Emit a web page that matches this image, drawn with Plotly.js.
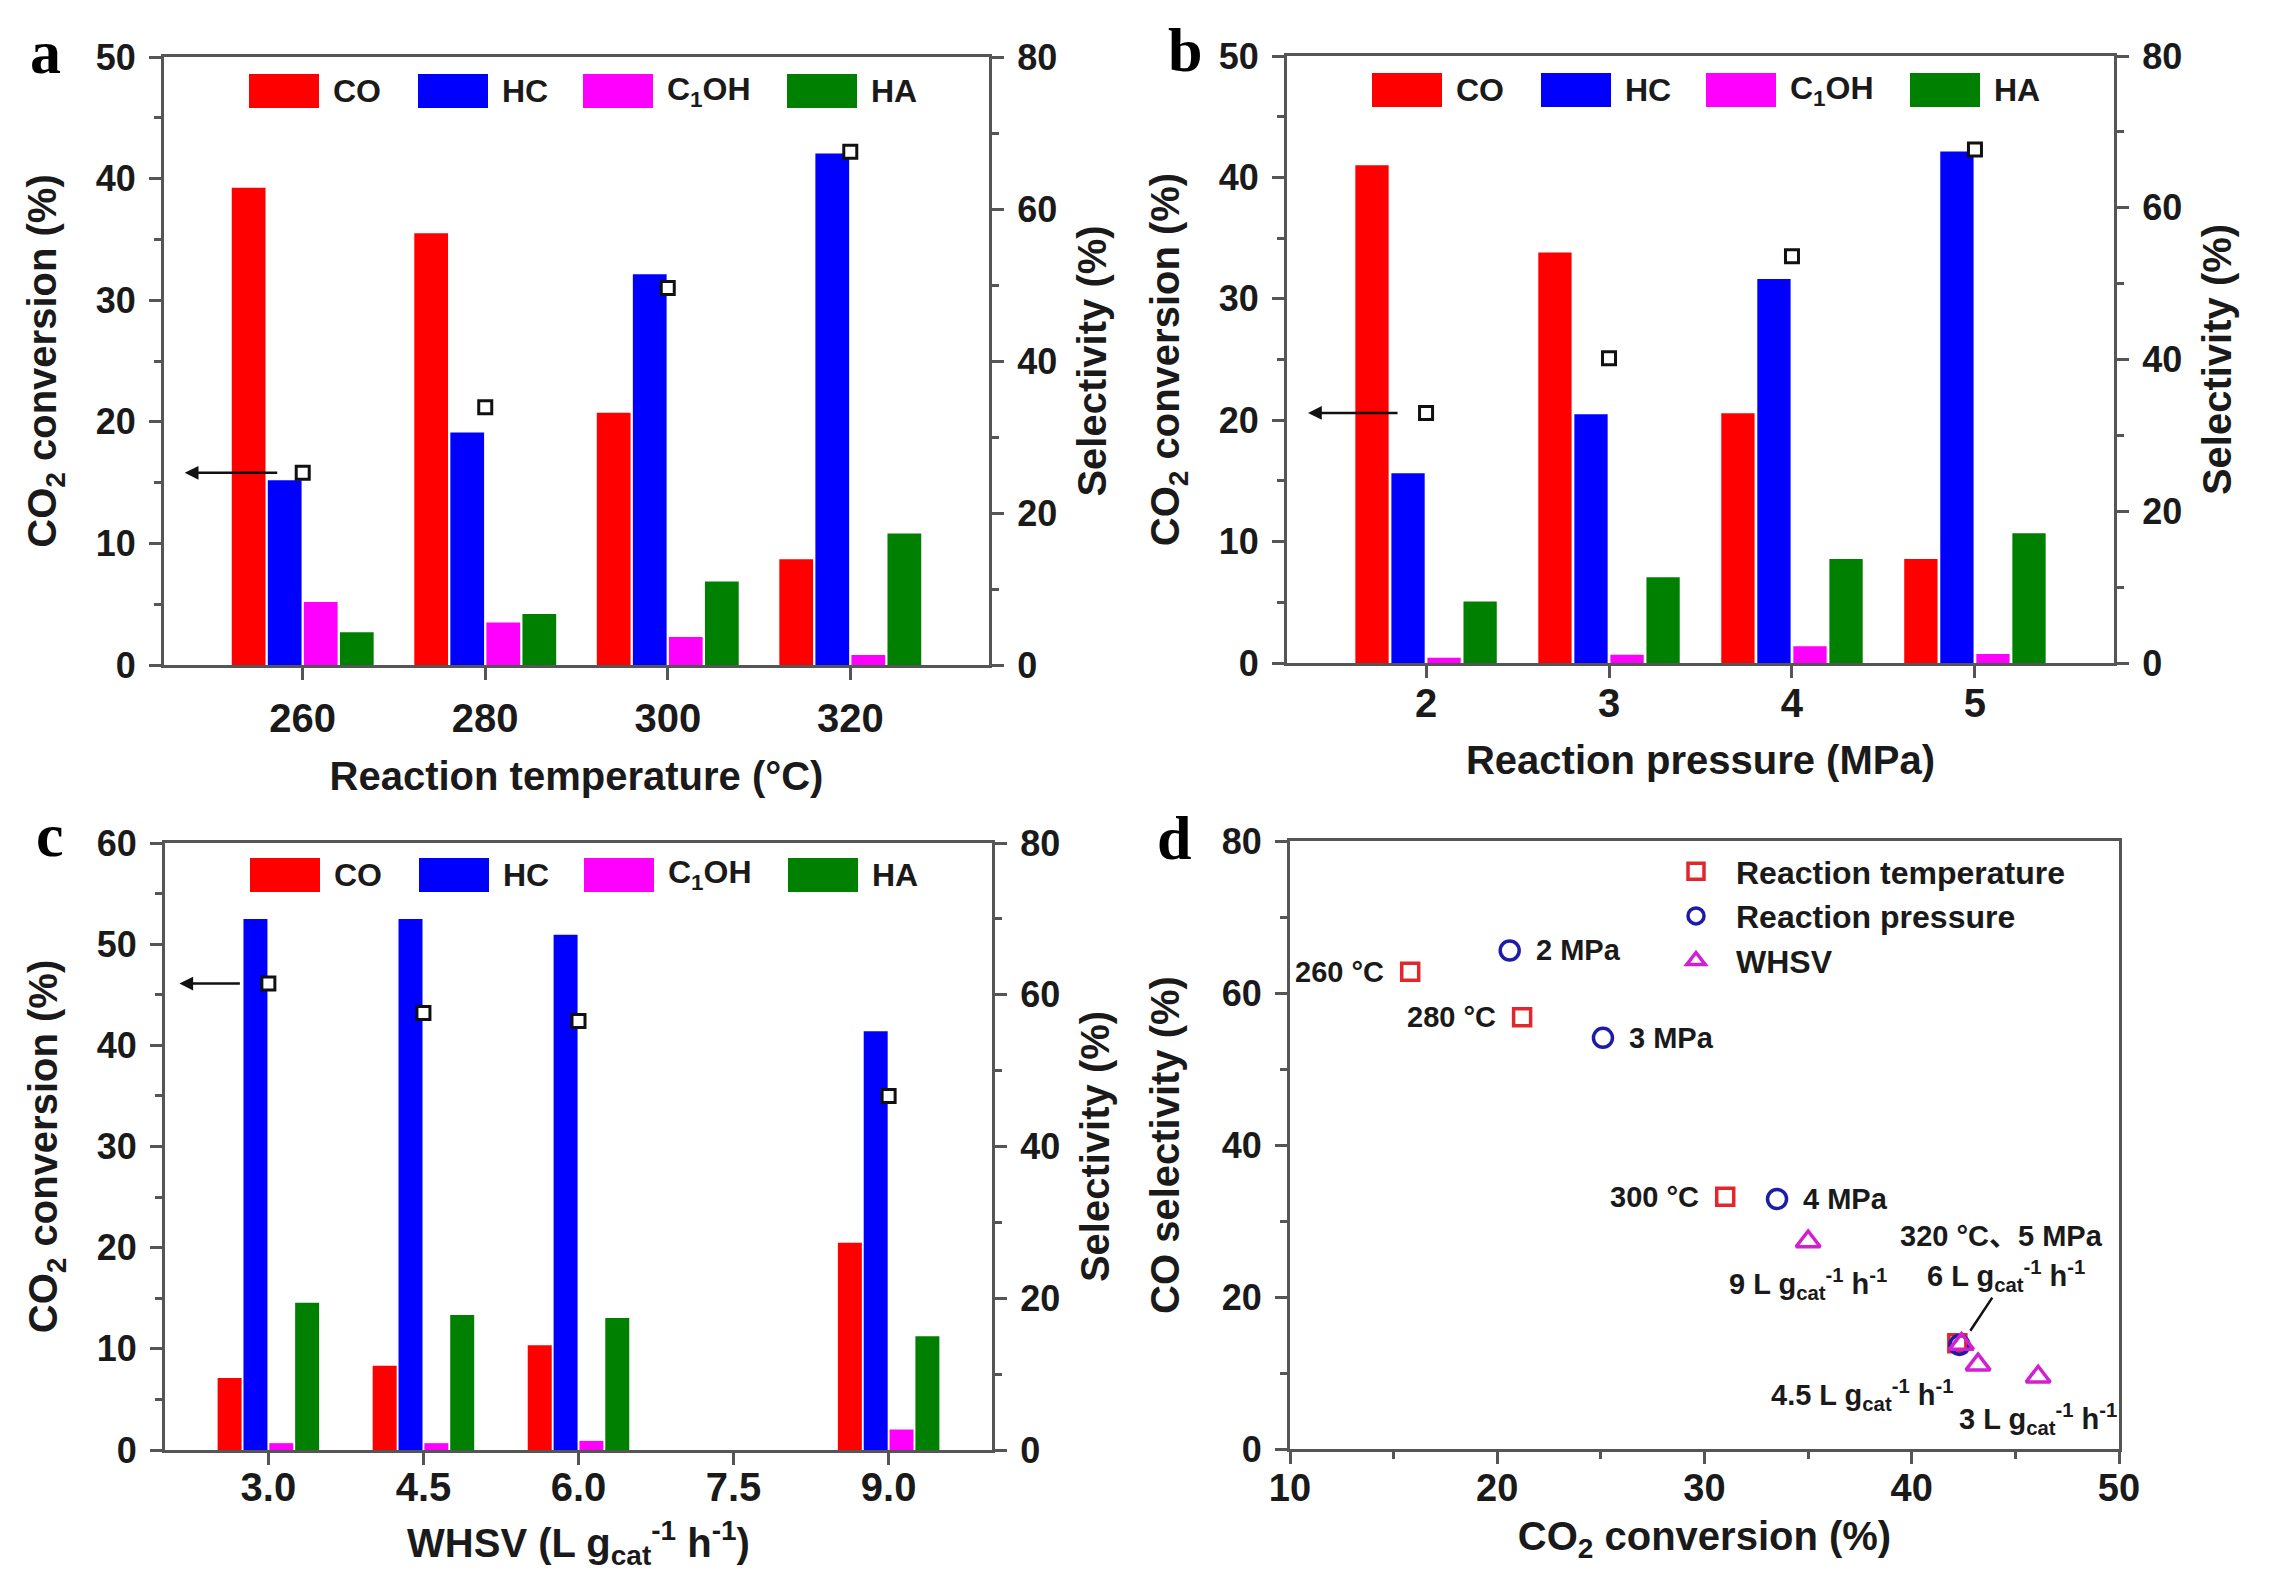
<!DOCTYPE html>
<html>
<head>
<meta charset="utf-8">
<script src="https://cdn.plot.ly/plotly-3.0.1.min.js"></script>
<style>
  html, body { margin: 0; padding: 0; background: #ffffff; }
  #chart { width: 2274px; height: 1593px; }
</style>
</head>
<body>
<div id="chart"></div>
<script>
// CO2 hydrogenation: selectivity bars + conversion markers (a–c), CO selectivity vs conversion (d)
(function () {

    const dom = document.getElementById("chart");
    const W = 2274, H = 1593;

    // ---------- data ----------
    const products = ["CO", "HC", "C<sub>1</sub>OH", "HA"];

    // a: reaction temperature (°C)
    const temps = [260, 280, 300, 320];
    const tempCO = [62.8, 56.8, 33.2, 13.9];
    const tempHC = [24.3, 30.6, 51.4, 67.3];
    const tempC1OH = [8.3, 5.6, 3.7, 1.3];
    const tempHA = [4.3, 6.7, 11.0, 17.3];
    const tempConv = [15.8, 21.2, 31.0, 42.2];

    // b: reaction pressure (MPa)
    const pressures = [2, 3, 4, 5];
    const presCO = [65.6, 54.1, 32.9, 13.7];
    const presHC = [25.0, 32.8, 50.6, 67.4];
    const presC1OH = [0.7, 1.1, 2.2, 1.2];
    const presHA = [8.1, 11.3, 13.7, 17.1];
    const presConv = [20.6, 25.1, 33.5, 42.3];

    // c: WHSV (L g_cat^-1 h^-1)
    const whsv = [3.0, 4.5, 6.0, 9.0];
    const whsvCO = [9.5, 11.1, 13.8, 27.3];
    const whsvHC = [70.0, 70.0, 67.9, 55.2];
    const whsvC1OH = [0.9, 0.9, 1.2, 2.7];
    const whsvHA = [19.4, 17.8, 17.4, 15.0];
    const whsvConv = [46.1, 43.2, 42.4, 35.0];

    // d: labels
    const tempLabels = ["260 °C", "280 °C", "300 °C"];
    const presLabels = ["2 MPa", "3 MPa", "4 MPa"];
    const sharedLabel = "320 °C、5 MPa";

    // ---------- style ----------
    const FONT = "Liberation Sans, Arial, Noto Sans CJK SC, sans-serif";
    const SERIF = "Liberation Serif, Times New Roman, serif";
    const INK = "#1a1a1a";
    const AX = "#555555";
    const barColors = ["#ff0000", "#0000ff", "#ff00ff", "#008000"];
    const C = { temp: "#e3262c", pres: "#1c1ca8", whsv: "#d21fd2" };

    const px = (v) => v / W;
    const py = (v) => 1 - v / H;

    // plot boxes in figure pixels
    const box = {
        a: { l: 164, r: 989, t: 57, b: 665 },
        b: { l: 1287, r: 2114, t: 56, b: 663 },
        c: { l: 165, r: 992, t: 843, b: 1450 },
        d: { l: 1290, r: 2119, t: 841, b: 1449 }
    };
    const dx = (k) => [px(box[k].l), px(box[k].r)];
    const dy = (k) => [py(box[k].b), py(box[k].t)];

    const tickFont = (s) => ({ family: FONT, size: s, color: INK, weight: "bold" });
    const titleFont = { family: FONT, size: 40, color: INK, weight: "bold" };

    const axBase = {
        showline: true, linecolor: AX, linewidth: 3,
        ticks: "outside", ticklen: 12, tickwidth: 3, tickcolor: AX,
        showgrid: false, zeroline: false, fixedrange: true
    };
    const minor = (d) => ({ ticks: "outside", ticklen: 7, tickwidth: 2.5, tickcolor: AX, dtick: d, showgrid: false });

    // ---------- traces ----------
    function barSet(xs, series, xa, ya, slot, bw) {
        return series.map((vals, i) => ({
            type: "bar",
            x: xs, y: vals,
            xaxis: xa, yaxis: ya,
            name: products[i],
            width: bw,
            offset: -2 * slot + i * slot + (slot - bw) / 2,
            marker: { color: barColors[i], line: { width: 0 } },
            showlegend: false,
            hoverinfo: "x+y"
        }));
    }

    function convMarks(xs, ys, xa, ya) {
        return {
            type: "scatter", mode: "markers",
            x: xs, y: ys, xaxis: xa, yaxis: ya,
            marker: { symbol: "square", size: 13, color: "#ffffff", line: { color: "#111111", width: 3 } },
            cliponaxis: false, showlegend: false, name: "CO2 conversion"
        };
    }

    const traces = [
        ...barSet(temps, [tempCO, tempHC, tempC1OH, tempHA], "x", "y", 3.95, 3.7),
        convMarks(temps, tempConv, "x", "y2"),
        ...barSet(pressures, [presCO, presHC, presC1OH, presHA], "x2", "y3", 0.197, 0.182),
        convMarks(pressures, presConv, "x2", "y4"),
        ...barSet(whsv, [whsvCO, whsvHC, whsvC1OH, whsvHA], "x3", "y5", 0.25, 0.232),
        convMarks(whsv, whsvConv, "x3", "y6"),
        {
            type: "scatter", mode: "markers", name: "Reaction temperature",
            x: tempConv, y: tempCO, xaxis: "x4", yaxis: "y7",
            marker: { symbol: "square-open", size: 17, color: C.temp, line: { color: C.temp, width: 3.5 } },
            cliponaxis: false
        },
        {
            type: "scatter", mode: "markers", name: "Reaction pressure",
            x: presConv, y: presCO, xaxis: "x4", yaxis: "y7",
            marker: { symbol: "circle-open", size: 19, color: C.pres, line: { color: C.pres, width: 3.5 } },
            cliponaxis: false
        },
        {
            type: "scatter", mode: "markers", name: "WHSV",
            x: whsvConv, y: whsvCO, xaxis: "x4", yaxis: "y7",
            marker: { symbol: "triangle-up-open", size: 21, color: C.whsv, line: { color: C.whsv, width: 3.5 } },
            cliponaxis: false
        }
    ];

    // ---------- manual bar legends (large swatches) ----------
    const legOffsets = [85, 254, 419, 623];
    const shapes = [];
    const annotations = [];
    ["a", "b", "c"].forEach((k) => {
        const bx = box[k];
        const top = bx.t + (k === "c" ? 15 : 17);
        legOffsets.forEach((o, i) => {
            shapes.push({
                type: "rect", xref: "paper", yref: "paper",
                x0: px(bx.l + o), x1: px(bx.l + o + 70),
                y0: py(top + 34), y1: py(top),
                fillcolor: barColors[i], line: { width: 0 }
            });
            annotations.push({
                xref: "paper", yref: "paper",
                x: px(bx.l + o + 82), y: py(top + 17),
                xanchor: "left", yanchor: "middle",
                text: products[i], showarrow: false,
                font: { family: FONT, size: 32, color: INK, weight: "bold" }
            });
        });
    });

    // arrows pointing to the conversion axis
    [["x", "y2", temps, tempConv, -118, 94],
     ["x2", "y4", pressures, presConv, -118, 91],
     ["x3", "y6", whsv, whsvConv, -89, 62]].forEach(([xa, ya, xs, ys, shift, len]) => {
        annotations.push({
            xref: xa, yref: ya, x: xs[0], y: ys[0],
            xshift: shift, ax: len, ay: 0, text: "",
            showarrow: true, arrowhead: 2, arrowsize: 1.1, arrowwidth: 2.5, arrowcolor: "#111111"
        });
    });

    // panel letters
    [["a", 45, 52], ["b", 1185, 50], ["c", 50, 835], ["d", 1174, 838]].forEach(([t, x, y]) => {
        annotations.push({
            xref: "paper", yref: "paper", x: px(x), y: py(y),
            xanchor: "center", yanchor: "middle", text: t, showarrow: false,
            font: { family: SERIF, size: 62, color: "#000000", weight: "bold" }
        });
    });

    // panel d point labels
    const lblFont = { family: FONT, size: 29, color: INK, weight: "bold" };
    const gcat = (v) => `${v} L g<sub>cat</sub><sup>-1</sup> h<sup>-1</sup>`;
    tempLabels.forEach((t, i) => annotations.push({
        xref: "x4", yref: "y7", x: tempConv[i], y: tempCO[i], text: t,
        xanchor: "right", yanchor: "middle", xshift: -24, showarrow: false, font: lblFont
    }));
    presLabels.forEach((t, i) => annotations.push({
        xref: "x4", yref: "y7", x: presConv[i], y: presCO[i], text: t,
        xanchor: "left", yanchor: "middle", xshift: 24, showarrow: false, font: lblFont
    }));
    annotations.push({
        xref: "x4", yref: "y7", x: tempConv[3], y: tempCO[3], text: sharedLabel,
        xanchor: "center", yanchor: "middle", xshift: 44, yshift: 107, showarrow: false, font: lblFont
    });
    annotations.push({
        xref: "x4", yref: "y7", x: whsvConv[0], y: whsvCO[0], text: gcat(3),
        xanchor: "center", yanchor: "middle", yshift: -42, showarrow: false, font: lblFont
    });
    annotations.push({
        xref: "x4", yref: "y7", x: whsvConv[1], y: whsvCO[1], text: gcat(4.5),
        xanchor: "right", yanchor: "middle", xshift: -22, yshift: -30, showarrow: false, font: lblFont
    });
    annotations.push({
        xref: "x4", yref: "y7", x: whsvConv[2], y: whsvCO[2], text: gcat(6),
        showarrow: true, arrowhead: 0, arrowwidth: 2.5, arrowcolor: "#111111",
        ax: 45, ay: -68, standoff: 16, font: lblFont
    });
    annotations.push({
        xref: "x4", yref: "y7", x: whsvConv[3], y: whsvCO[3], text: gcat(9),
        xanchor: "center", yanchor: "middle", yshift: -42, showarrow: false, font: lblFont
    });

    // ---------- layout ----------
    const convTitle = "CO<sub>2</sub> conversion (%)";
    const selTitle = "Selectivity (%)";

    function catX(k, range, tickvals, title, labelGap, standoff, anchor) {
        return Object.assign({}, axBase, {
            domain: dx(k), anchor: anchor, range: range,
            tickmode: "array", tickvals: tickvals,
            tickfont: tickFont(40), ticklabelstandoff: labelGap,
            mirror: true,
            title: { text: title, font: titleFont, standoff: standoff }
        });
    }
    function selY(k, anchor) {
        return Object.assign({}, axBase, {
            domain: dy(k), anchor: anchor, side: "right", range: [0, 80],
            dtick: 20, minor: minor(10), tickfont: tickFont(36), ticklabelstandoff: 6,
            title: { text: selTitle, font: titleFont, standoff: 22 }
        });
    }
    function convY(base, anchor, top, dt) {
        return Object.assign({}, axBase, {
            overlaying: base, anchor: anchor, side: "left", range: [0, top],
            dtick: dt, minor: minor(dt / 2), tickfont: tickFont(36), ticklabelstandoff: 6,
            title: { text: convTitle, font: titleFont, standoff: 27 }
        });
    }

    const layout = {
        width: W, height: H, autosize: false,
        paper_bgcolor: "#ffffff", plot_bgcolor: "rgba(0,0,0,0)",
        margin: { l: 0, r: 0, t: 0, b: 0 },
        font: { family: FONT, color: INK },
        barmode: "overlay",
        showlegend: true,

        xaxis: catX("a", [244.8, 335.2], temps, "Reaction temperature (°C)", 4, 23, "y"),
        yaxis: selY("a", "x"),
        yaxis2: convY("y", "x", 50, 10),

        xaxis2: catX("b", [1.24, 5.76], pressures, "Reaction pressure (MPa)", -9, 22, "y3"),
        yaxis3: selY("b", "x2"),
        yaxis4: convY("y3", "x2", 50, 10),

        xaxis3: Object.assign(catX("c", [2.0, 10.0], [3, 4.5, 6, 7.5, 9],
            "WHSV (L g<sub>cat</sub><sup>-1</sup> h<sup>-1</sup>)", -12, 21, "y5"), { tickformat: ".1f" }),
        yaxis5: selY("c", "x3"),
        yaxis6: convY("y5", "x3", 60, 10),

        xaxis4: Object.assign({}, axBase, {
            domain: dx("d"), anchor: "y7", range: [10, 50], dtick: 10, minor: minor(5),
            tickfont: tickFont(38), ticklabelstandoff: -9, mirror: true,
            title: { text: convTitle, font: titleFont, standoff: 15 }
        }),
        yaxis7: Object.assign({}, axBase, {
            domain: dy("d"), anchor: "x4", range: [0, 80], dtick: 20, minor: minor(10),
            tickfont: tickFont(36), ticklabelstandoff: 6, mirror: true,
            title: { text: "CO selectivity (%)", font: titleFont, standoff: 30 }
        }),

        legend: {
            x: px(1656), y: py(844), xanchor: "left", yanchor: "top",
            bgcolor: "rgba(0,0,0,0)", borderwidth: 0,
            font: { family: FONT, size: 32, color: INK, weight: "bold" },
            itemwidth: 70, tracegroupgap: 0
        },

        shapes: shapes,
        annotations: annotations
    };

    Plotly.newPlot(dom, traces, layout, { displayModeBar: false, responsive: false });

})();
</script>
</body>
</html>
